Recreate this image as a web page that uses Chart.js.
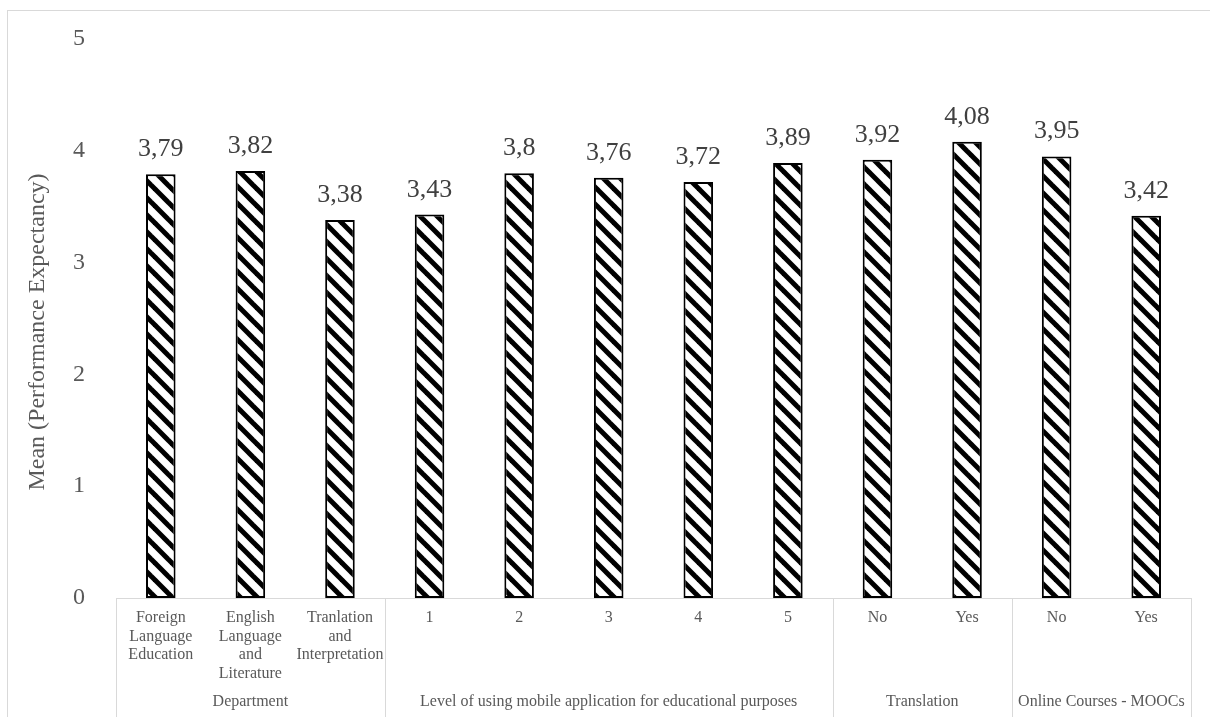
<!DOCTYPE html>
<html>
<head>
<meta charset="utf-8">
<script src="https://cdn.jsdelivr.net/npm/chart.js@4.4.1/dist/chart.umd.min.js"></script>
<style>
  html, body { margin: 0; padding: 0; background: #fff; }
  #wrap { position: relative; width: 1210px; height: 717px; }
</style>
</head>
<body>
<div id="wrap"><canvas id="chart" width="1210" height="717"></canvas></div>
<script>
// category labels (multi-line) and their groups
const categories = [
  ['Foreign', 'Language', 'Education'],
  ['English', 'Language', 'and', 'Literature'],
  ['Tranlation', 'and', 'Interpretation'],
  '1', '2', '3', '4', '5',
  'No', 'Yes',
  'No', 'Yes'
]
const groups = [
  'Department',
  'Level of using mobile application for educational purposes',
  'Translation',
  'Online Courses - MOOCs'
]
const groupSizes = [3, 5, 2, 2]
const means = [3.79, 3.82, 3.38, 3.43, 3.8, 3.76, 3.72, 3.89, 3.92, 4.08, 3.95, 3.42]
const yTicks = [0, 1, 2, 3, 4, 5]
const yTitle = 'Mean (Performance Expectancy)'

const SERIF = '"Liberation Serif", "Times New Roman", serif'
const GREY = '#d9d9d9'

// diagonal hatch, top-left to bottom-right
const makeHatch = () => {
  const size = 17
  const c = document.createElement('canvas')
  c.width = size
  c.height = size
  const g = c.getContext('2d')
  g.fillStyle = '#fff'
  g.fillRect(0, 0, size, size)
  g.strokeStyle = '#000'
  g.lineWidth = 5
  for (const off of [-size, 0, size]) {
    g.beginPath()
    g.moveTo(off - 4, -4)
    g.lineTo(off + size + 4, size + 4)
    g.stroke()
  }
  return g.createPattern(c, 'repeat')
}

const decorations = {
  id: 'decorations',
  beforeDraw(chart) {
    const { ctx } = chart
    ctx.save()
    ctx.strokeStyle = GREY
    ctx.lineWidth = 1
    ctx.strokeRect(7.5, 10.5, 1230, 730)
    // y axis title
    ctx.fillStyle = '#595959'
    ctx.font = '24px ' + SERIF
    ctx.textAlign = 'center'
    ctx.textBaseline = 'middle'
    ctx.translate(38, 332)
    ctx.rotate(-Math.PI / 2)
    ctx.fillText(yTitle, 0, 0)
    ctx.restore()
  },
  afterDraw(chart) {
    const { ctx } = chart
    const x = chart.scales.x
    const half = (x.getPixelForValue(1) - x.getPixelForValue(0)) / 2
    ctx.save()
    ctx.strokeStyle = GREY
    ctx.lineWidth = 1
    ctx.fillStyle = '#595959'
    ctx.font = '16px ' + SERIF
    ctx.textAlign = 'center'
    ctx.textBaseline = 'alphabetic'
    let start = 0
    const edges = [Math.round(x.getPixelForValue(0) - half) + 0.5]
    groups.forEach((name, i) => {
      const end = start + groupSizes[i] - 1
      const left = x.getPixelForValue(start) - half
      const right = x.getPixelForValue(end) + half
      edges.push(Math.round(right) + 0.5)
      ctx.fillText(name, (left + right) / 2, 706)
      start = end + 1
    })
    edges.forEach(px => {
      ctx.beginPath()
      ctx.moveTo(px, x.top)
      ctx.lineTo(px, chart.height)
      ctx.stroke()
    })
    ctx.restore()
  },
  afterDatasetsDraw(chart) {
    const { ctx } = chart
    const meta = chart.getDatasetMeta(0)
    ctx.save()
    ctx.fillStyle = '#404040'
    ctx.font = '26px ' + SERIF
    ctx.textAlign = 'center'
    ctx.textBaseline = 'alphabetic'
    meta.data.forEach((bar, i) => {
      ctx.fillText(String(means[i]).replace('.', ','), bar.x, bar.y - 18)
    })
    ctx.restore()
  }
}

new Chart(document.getElementById('chart'), {
  type: 'bar',
  data: {
    labels: categories,
    datasets: [{
      data: means,
      backgroundColor: makeHatch(),
      borderColor: '#000',
      borderWidth: 2,
      borderSkipped: false,
      barPercentage: 0.33,
      categoryPercentage: 1
    }]
  },
  options: {
    responsive: false,
    animation: false,
    layout: { padding: { top: 39, right: 19, left: 0, bottom: 0 } },
    plugins: { legend: { display: false }, tooltip: { enabled: false } },
    scales: {
      x: {
        grid: { display: false },
        border: { display: true, color: GREY, width: 1 },
        ticks: {
          color: '#595959',
          font: { family: SERIF, size: 16, lineHeight: 1.15 },
          padding: 3,
          maxRotation: 0,
          autoSkip: false
        },
        afterFit: scale => { scale.height = 119 }
      },
      y: {
        min: 0,
        max: 5,
        afterBuildTicks: scale => { scale.ticks = yTicks.map(v => ({ value: v })) },
        grid: { display: false },
        border: { display: false },
        ticks: {
          color: '#595959',
          font: { family: SERIF, size: 24 },
          padding: 23
        },
        afterFit: scale => { scale.width = 116 }
      }
    }
  },
  plugins: [decorations]
})
</script>
</body>
</html>
